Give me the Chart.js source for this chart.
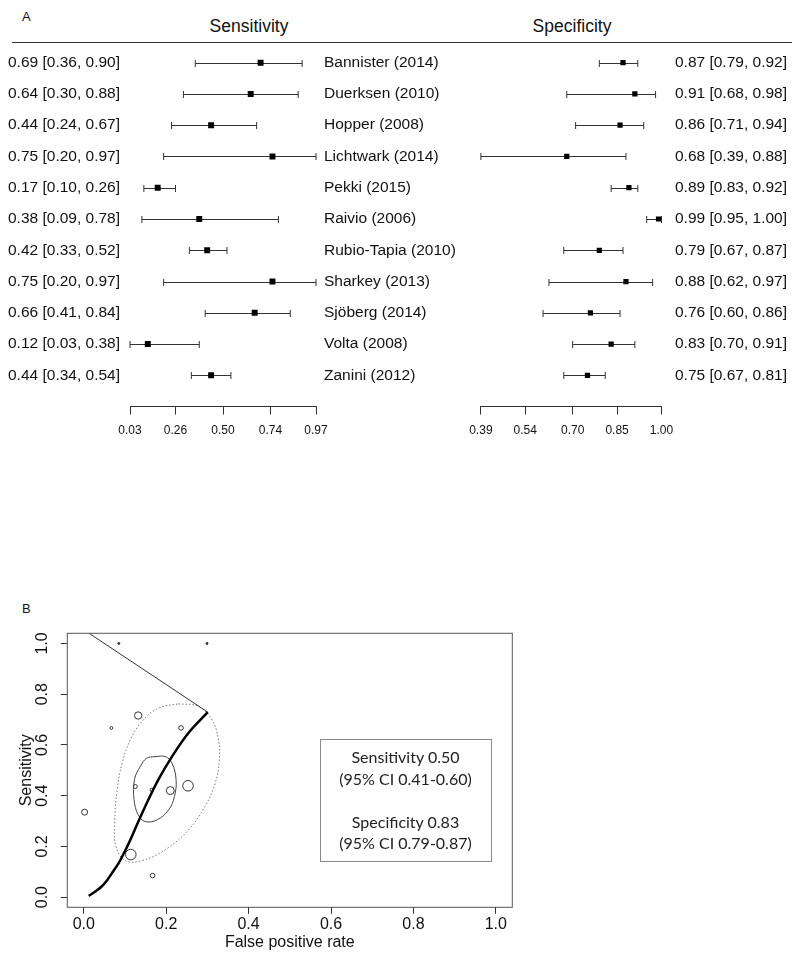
<!DOCTYPE html>
<html>
<head>
<meta charset="utf-8">
<script src="https://cdn.jsdelivr.net/npm/chart.js@4.4.0/dist/chart.umd.min.js"></script>
<style>
  body { margin: 0; background: #fff; width: 800px; height: 961px; position: relative; overflow: hidden;
         font-family: "Liberation Sans", Arial, sans-serif; color: #111; }
  canvas, .txt { position: absolute; }
  .txt { white-space: nowrap; }
  .leg { position: absolute; left: 320px; width: 171px; text-align: center; font-family: Lato, "Open Sans", sans-serif;
         font-size: 16px; line-height: 21px; color: #222; }
</style>
</head>
<body>
<div class="txt" style="left:22px; top:10px; font-size:13px; line-height:13px;">A</div>
<div class="txt" style="left:149px; width:200px; text-align:center; top:16px; font-size:17.5px; line-height:20px;">Sensitivity</div>
<div class="txt" style="left:472px; width:200px; text-align:center; top:16px; font-size:17.5px; line-height:20px;">Specificity</div>
<div style="position:absolute; left:12px; top:41.5px; width:780px; height:1.4px; background:#333;"></div>

<canvas id="sensChart" width="470" height="450" style="left:0; top:0;"></canvas>
<canvas id="specChart" width="340" height="450" style="left:460px; top:0;"></canvas>

<div class="txt" style="left:22px; top:602px; font-size:13px; line-height:13px;">B</div>
<canvas id="rocChart" width="560" height="361" style="left:0; top:600px;"></canvas>

<div style="position:absolute; left:320px; top:739px; width:170px; height:121px; border:1px solid #8a8a8a;"></div>
<div class="leg" style="top:746px;">Sensitivity 0.50</div>
<div class="leg" style="top:767.5px;">(95% CI 0.41-0.60)</div>
<div class="leg" style="top:811px;">Specificity 0.83</div>
<div class="leg" style="top:832px;">(95% CI 0.79-0.87)</div>

<script>
// studies, top to bottom
const studies = ['Bannister (2014)', 'Duerksen (2010)', 'Hopper (2008)', 'Lichtwark (2014)', 'Pekki (2015)',
  'Raivio (2006)', 'Rubio-Tapia (2010)', 'Sharkey (2013)', 'Sjöberg (2014)', 'Volta (2008)', 'Zanini (2012)'];
const sens   = [0.69, 0.64, 0.44, 0.75, 0.17, 0.38, 0.42, 0.75, 0.66, 0.12, 0.44];
const sensLo = [0.36, 0.30, 0.24, 0.20, 0.10, 0.09, 0.33, 0.20, 0.41, 0.03, 0.34];
const sensHi = [0.90, 0.88, 0.67, 0.97, 0.26, 0.78, 0.52, 0.97, 0.84, 0.38, 0.54];
const spec   = [0.87, 0.91, 0.86, 0.68, 0.89, 0.99, 0.79, 0.88, 0.76, 0.83, 0.75];
const specLo = [0.79, 0.68, 0.71, 0.39, 0.83, 0.95, 0.67, 0.62, 0.60, 0.70, 0.67];
const specHi = [0.92, 0.98, 0.94, 0.88, 0.92, 1.00, 0.87, 0.97, 0.86, 0.91, 0.81];
const sensTicks = ['0.03', '0.26', '0.50', '0.74', '0.97'];
const specTicks = ['0.39', '0.54', '0.70', '0.85', '1.00'];

// SROC panel (false positive rate, sensitivity)
const rocFpr  = [0.085, 0.299, 0.132, 0.067, 0.236, 0.125, 0.165, 0.210, 0.253, 0.002, 0.114, 0.167];
const rocSens = [1.000, 1.000, 0.716, 0.667, 0.667, 0.436, 0.423, 0.420, 0.439, 0.335, 0.168, 0.085];
const rocWeight = [1, 1, 3.7, 1.4, 2.3, 2, 1.7, 4, 5.3, 3, 5.3, 2.3];
const srocCurve = [[0.012, 0.005], [0.028, 0.022], [0.044, 0.043], [0.058, 0.070], [0.071, 0.101], [0.085, 0.135],
  [0.097, 0.172], [0.109, 0.212], [0.129, 0.285], [0.153, 0.371], [0.181, 0.463], [0.214, 0.554],
  [0.254, 0.647], [0.301, 0.729]];
const extLine = [[0.301, 0.729], [0.0, 1.054]];
const confRegion = [[0.173, 0.554], [0.198, 0.554], [0.214, 0.528], [0.224, 0.463], [0.220, 0.397], [0.206, 0.344],
  [0.178, 0.305], [0.149, 0.298], [0.132, 0.325], [0.122, 0.384], [0.123, 0.463], [0.137, 0.515],
  [0.153, 0.548], [0.173, 0.554]];
const predRegion = [[0.230, 0.762], [0.278, 0.752], [0.311, 0.699], [0.327, 0.620], [0.329, 0.541], [0.319, 0.449],
  [0.294, 0.357], [0.254, 0.265], [0.198, 0.187], [0.141, 0.144], [0.101, 0.144], [0.078, 0.200],
  [0.075, 0.292], [0.081, 0.423], [0.093, 0.528], [0.113, 0.620], [0.141, 0.692], [0.181, 0.745],
  [0.230, 0.762]];
const rocTicks = ['0.0', '0.2', '0.4', '0.6', '0.8', '1.0'];

const FONT = '"Liberation Sans", Arial, sans-serif';
const rows = studies.map((s, i) => i + 1);
const ci = (e, l, h, i) => `${e[i].toFixed(2)} [${l[i].toFixed(2)}, ${h[i].toFixed(2)}]`;

function forest(id, est, lo, hi, ticks, pad, pointR, drawText) {
  const errBars = {
    id: 'errBars',
    beforeDatasetsDraw(chart) {
      const { ctx, scales: { x, y } } = chart;
      ctx.save();
      ctx.strokeStyle = '#333';
      ctx.lineWidth = 1;
      est.forEach((v, i) => {
        const py = Math.round(y.getPixelForValue(rows[i])) + 0.5;
        const x0 = x.getPixelForValue(lo[i]), x1 = x.getPixelForValue(hi[i]);
        ctx.beginPath();
        ctx.moveTo(x0, py); ctx.lineTo(x1, py);
        ctx.moveTo(x0, py - 3.5); ctx.lineTo(x0, py + 3.5);
        ctx.moveTo(x1, py - 3.5); ctx.lineTo(x1, py + 3.5);
        ctx.stroke();
      });
      ctx.restore();
    },
    afterDraw(chart) {
      const { ctx, scales: { y } } = chart;
      ctx.save();
      ctx.font = '15.5px ' + FONT;
      ctx.fillStyle = '#111';
      ctx.textBaseline = 'middle';
      rows.forEach((r, i) => drawText(ctx, y.getPixelForValue(r), i));
      ctx.restore();
    }
  };
  return new Chart(document.getElementById(id), {
    type: 'scatter',
    data: {
      datasets: [{
        data: est.map((v, i) => ({ x: v, y: rows[i] })),
        pointStyle: 'rect',
        pointRadius: pointR,
        pointBorderWidth: 0,
        backgroundColor: '#000'
      }]
    },
    options: {
      responsive: false,
      animation: false,
      events: [],
      layout: { padding: pad },
      plugins: { legend: { display: false }, tooltip: { enabled: false } },
      scales: {
        x: {
          type: 'linear',
          min: +ticks[0],
          max: +ticks[ticks.length - 1],
          afterBuildTicks: s => { s.ticks = ticks.map(t => ({ value: +t })); },
          afterFit: s => { s.height = 43.4; },
          grid: { drawOnChartArea: false, drawTicks: true, tickLength: 8, color: '#333' },
          border: { display: true, color: '#333', width: 1 },
          ticks: { padding: 9.2, autoSkip: false, maxRotation: 0, color: '#111',
                   font: { family: FONT, size: 12 }, callback: (v, i) => ticks[i] }
        },
        y: { type: 'linear', min: 0, max: 12, reverse: true, display: false }
      }
    },
    plugins: [errBars]
  });
}

forest('sensChart', sens, sensLo, sensHi, sensTicks, { left: 130, right: 154, top: 31.4, bottom: 0 }, 4.2,
  (ctx, py, i) => {
    ctx.textAlign = 'left';
    ctx.fillText(ci(sens, sensLo, sensHi, i), 8, py);
    ctx.fillText(studies[i], 324, py);
  });

forest('specChart', spec, specLo, specHi, specTicks, { left: 16, right: 138.5, top: 31.4, bottom: 0 }, 3.7,
  (ctx, py, i) => {
    ctx.textAlign = 'right';
    ctx.fillText(ci(spec, specLo, specHi, i), 327, py);
  });

// SROC panel
const boxPlugin = {
  id: 'box',
  afterDraw(chart) {
    const { ctx, chartArea: a } = chart;
    ctx.save();
    ctx.strokeStyle = '#555';
    ctx.lineWidth = 1;
    ctx.strokeRect(a.left, a.top, a.right - a.left, a.bottom - a.top);
    ctx.restore();
  }
};
const pts = arr => arr.map(p => ({ x: p[0], y: p[1] }));
const axisOpts = (title, extra) => Object.assign({
  type: 'linear', min: -0.04, max: 1.04,
  afterBuildTicks: s => { s.ticks = rocTicks.map(t => ({ value: +t })); },
  grid: { drawOnChartArea: false, drawTicks: true, tickLength: 6.5, color: '#333' },
  border: { display: false },
  title: { display: true, text: title, color: '#111', font: { family: FONT, size: 16 }, padding: 0 }
}, extra);

new Chart(document.getElementById('rocChart'), {
  type: 'scatter',
  data: {
    datasets: [
      { data: pts(srocCurve), showLine: true, borderColor: '#000', borderWidth: 2.5, pointRadius: 0,
        cubicInterpolationMode: 'monotone' },
      { data: pts(extLine), showLine: true, borderColor: '#333', borderWidth: 1, pointRadius: 0 },
      { data: pts(confRegion), showLine: true, borderColor: '#444', borderWidth: 1, pointRadius: 0, tension: 0.4 },
      { data: pts(predRegion), showLine: true, borderColor: '#777', borderWidth: 1, borderDash: [1.5, 2],
        pointRadius: 0, tension: 0.4 },
      { type: 'bubble', data: rocFpr.map((v, i) => ({ x: v, y: rocSens[i], r: rocWeight[i] })),
        borderColor: '#333', borderWidth: 1,
        backgroundColor: c => (c.raw && c.raw.r <= 1 ? '#222' : 'rgba(0,0,0,0)') }
    ]
  },
  options: {
    responsive: false,
    animation: false,
    events: [],
    layout: { padding: { left: 17.3, right: 47.7, top: 33.3, bottom: 8.4 } },
    plugins: { legend: { display: false }, tooltip: { enabled: false } },
    scales: {
      x: axisOpts('False positive rate', {
        afterFit: s => { s.height = 45.3; },
        ticks: { padding: 1, autoSkip: false, maxRotation: 0, color: '#111', font: { family: FONT, size: 16 },
                 callback: (v, i) => rocTicks[i] }
      }),
      y: axisOpts('Sensitivity', {
        afterFit: s => { s.width = 50; },
        ticks: { padding: 6.7, autoSkip: false, minRotation: 90, maxRotation: 90, crossAlign: 'center',
                 color: '#111', font: { family: FONT, size: 16 }, callback: (v, i) => rocTicks[i] }
      })
    }
  },
  plugins: [boxPlugin]
});
</script>
</body>
</html>
